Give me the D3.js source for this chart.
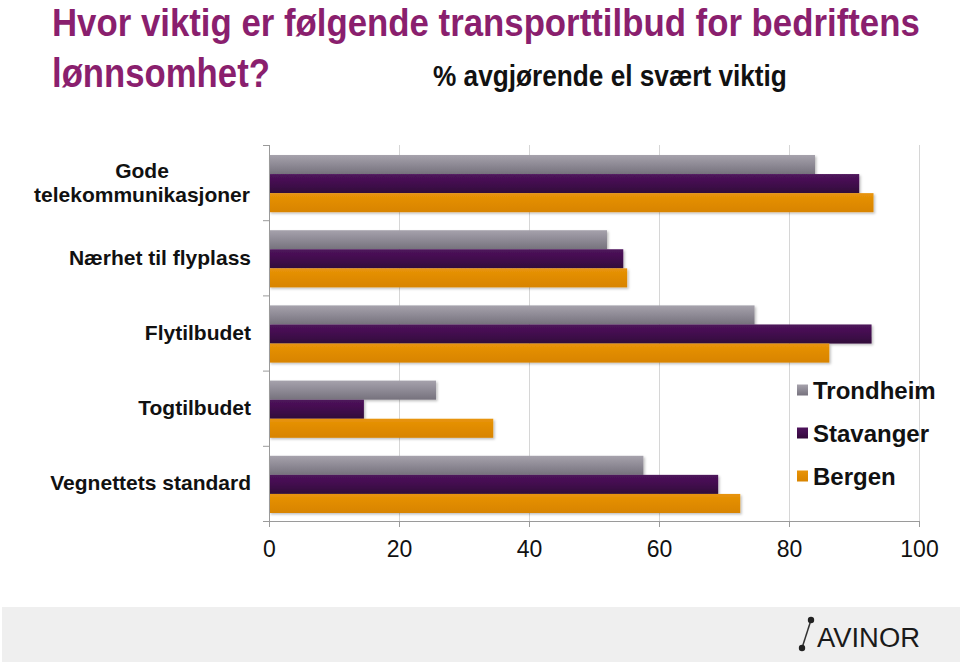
<!DOCTYPE html>
<html><head><meta charset="utf-8">
<script src="https://cdn.jsdelivr.net/npm/d3@7"></script>
<style>body{margin:0;background:#fff}svg{display:block;font-family:"Liberation Sans",Arial,sans-serif}</style>
</head><body>
<svg id="c" width="960" height="664"></svg>
<script>
const categories = ["Gode telekommunikasjoner","Nærhet til flyplass","Flytilbudet","Togtilbudet","Vegnettets standard"];
const categoryLines = [["Gode","telekommunikasjoner"],["Nærhet til flyplass"],["Flytilbudet"],["Togtilbudet"],["Vegnettets standard"]];
const seriesNames = ["Trondheim","Stavanger","Bergen"];
const trondheim = [84, 52, 74.7, 25.7, 57.6];
const stavanger = [90.8, 54.5, 92.7, 14.6, 69.1];
const bergen = [93, 55.1, 86.2, 34.5, 72.5];
const xTicks = [0,20,40,60,80,100];
const titleLine1 = "Hvor viktig er følgende transporttilbud for bedriftens";
const titleLine2 = "lønnsomhet?";
const subtitle = "% avgjørende el svært viktig";

(function(){
const seriesValues = [trondheim, stavanger, bergen];
const svg = d3.select("#c");
const defs = svg.append("defs");
const grads = [["#a6a2ac","#8e8a95","#76727d"],["#4e135b","#420e4e","#310839"],["#e8940a","#e08b00","#d88400"]];
grads.forEach((g,i)=>{
  const lg = defs.append("linearGradient").attr("id","g"+i).attr("x1",0).attr("y1",0).attr("x2",0).attr("y2",1);
  lg.append("stop").attr("offset","0%").attr("stop-color",g[0]);
  lg.append("stop").attr("offset","50%").attr("stop-color",g[1]);
  lg.append("stop").attr("offset","100%").attr("stop-color",g[2]);
});
const f = defs.append("filter").attr("id","sh").attr("x","-5%").attr("y","-20%").attr("width","115%").attr("height","160%");
f.append("feDropShadow").attr("dx",1.5).attr("dy",1.5).attr("stdDeviation",1).attr("flood-color","#000").attr("flood-opacity",0.25);

const pLeft = 269, pRight = 919, pTop = 145, pBottom = 521;
const x = d3.scaleLinear().domain([0,100]).range([pLeft,pRight]);
const y = d3.scaleBand().domain(categories).range([pTop,pBottom]).padding(0);
const y1 = d3.scaleBand().domain(seriesNames).range([10, y.bandwidth()-8]).padding(0);

svg.append("g").selectAll("line").data(xTicks.slice(1)).join("line")
  .attr("x1",d=>x(d)+0.5).attr("x2",d=>x(d)+0.5).attr("y1",pTop).attr("y2",pBottom)
  .attr("stroke","#d6d6d6").attr("stroke-width",1);

categories.forEach((c,ci)=>{
  const g = svg.append("g").attr("transform",`translate(0,${y(c)})`);
  seriesNames.forEach((s,si)=>{
    g.append("rect").attr("x",x(0)).attr("y",y1(s))
      .attr("width",x(seriesValues[si][ci])-x(0)).attr("height",y1.bandwidth())
      .attr("fill",`url(#g${si})`).attr("filter","url(#sh)");
  });
});

const xAxis = svg.append("g").attr("transform",`translate(0,${pBottom})`)
  .call(d3.axisBottom(x).tickValues(xTicks).tickSize(6).tickPadding(14).tickFormat(d3.format("d")));
xAxis.select(".domain").attr("stroke","#9a9a9a").attr("d",`M${pLeft-6},0.5H${pRight}`);
xAxis.selectAll(".tick line").attr("stroke","#9a9a9a");
xAxis.selectAll(".tick text").attr("font-size",23).attr("fill","#111").attr("font-family","Liberation Sans, Arial, sans-serif");

const yEdges = categories.map(c=>y(c)).concat([pBottom]);
const yAx = svg.append("g");
yAx.append("line").attr("x1",pLeft+0.5).attr("x2",pLeft+0.5).attr("y1",pTop).attr("y2",pBottom).attr("stroke","#9a9a9a");
yAx.selectAll("line.t").data(yEdges).join("line").attr("class","t")
  .attr("x1",pLeft-6).attr("x2",pLeft).attr("y1",d=>d+0.5).attr("y2",d=>d+0.5).attr("stroke","#9a9a9a");

categories.forEach((c,ci)=>{
  const lines = categoryLines[ci];
  const cy = y(c)+y.bandwidth()/2;
  const t = svg.append("text").attr("font-size",21).attr("font-weight","bold").attr("fill","#111")
    .attr("text-anchor", lines.length>1 ? "middle" : "end");
  const w = 218;
  lines.forEach((l,li)=>{
    t.append("tspan").attr("x", lines.length>1 ? 251 - w/2 : 251).attr("y", cy + 7 + (li-(lines.length-1)/2)*24).text(l);
  });
});

const lg = svg.append("g");
seriesNames.forEach((s,si)=>{
  const cy = 390 + si*43;
  lg.append("rect").attr("x",797).attr("y",cy-5.5).attr("width",11).attr("height",11).attr("fill",`url(#g${si})`);
  lg.append("text").attr("x",813).attr("y",cy+9).attr("font-size",24).attr("font-weight","bold").attr("fill","#111").text(s);
});

function fitText(str, x0, y0, size, weight, color, width){
  const t = svg.append("text").attr("x",0).attr("y",0).attr("font-size",size)
    .attr("font-weight",weight).attr("fill",color).text(str);
  const natural = t.node().getComputedTextLength();
  t.attr("transform",`translate(${x0},${y0}) scale(${width/natural},1)`);
  return t;
}
fitText(titleLine1, 52, 36, 38, "bold", "#8a1f6e", 868);
fitText(titleLine2, 52, 87, 40, "bold", "#8a1f6e", 218);
fitText(subtitle, 433, 86, 30, "bold", "#111", 354);

svg.append("rect").attr("x",2).attr("y",607).attr("width",958).attr("height",55).attr("fill","#efefef");
const logo = svg.append("g");
logo.append("line").attr("x1",802).attr("y1",648).attr("x2",811).attr("y2",620).attr("stroke","#333").attr("stroke-width",1.5);
logo.append("circle").attr("cx",811).attr("cy",620).attr("r",3.2).attr("fill","#222");
logo.append("circle").attr("cx",802).attr("cy",648).attr("r",3.2).attr("fill","#222");
fitText("AVINOR", 817, 647, 27, "normal", "#1a1a1a", 103);
})();
</script>
</body></html>
